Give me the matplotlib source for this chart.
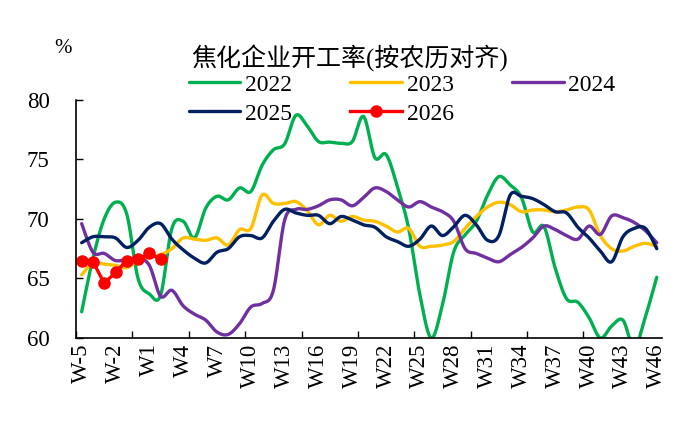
import numpy as np
import matplotlib
matplotlib.use("Agg")
import matplotlib.pyplot as plt

plt.rcParams['font.family'] = ['Liberation Serif', 'Noto Sans CJK SC']

weeks = ['W%d' % w for w in range(-5, 47)]

y2022 = [62.2, 66.7, 70.0, 71.4, 70.4, 65.0, 63.7, 63.6, 69.2, 69.8,
         68.4, 70.9, 71.9, 71.6, 72.6, 72.3, 74.5, 75.8, 76.3, 78.7,
         77.8, 76.5, 76.45, 76.35, 76.5, 78.6, 75.15, 75.4, 72.7, 69.2,
         63.6, 60.0, 62.8, 67.25, 68.65, 69.8, 72.0, 73.55, 72.85, 71.8,
         68.9, 69.35, 65.85, 63.3, 63.0, 61.7, 60.0, 61.0, 61.5, 59.2,
         61.8, 65.1]
y2023 = [65.3, 66.3, 66.2, 66.1, 65.9, 66.5, 66.8, 67.0, 67.5, 68.4,
         68.3, 68.2, 68.4, 67.8, 69.1, 69.2, 72.0, 71.3, 71.3, 71.45,
         70.7, 69.5, 70.3, 69.8, 70.2, 69.9, 69.8, 69.4, 68.9, 69.2,
         67.7, 67.7, 67.8, 68.1, 69.2, 70.2, 71.0, 71.4, 71.2, 70.6,
         70.75, 70.75, 70.6, 70.75, 71.0, 70.75, 68.6, 67.5, 67.3, 67.7,
         67.95, 67.7]
y2024 = [69.6, 67.2, 67.1, 66.5, 66.6, 66.7, 66.1, 63.5, 64.0, 62.7,
         62.0, 61.5, 60.5, 60.3, 61.2, 62.6, 62.9, 64.0, 69.9, 70.8,
         70.8, 71.1, 71.6, 71.6, 71.1, 71.8, 72.6, 72.3, 71.6, 71.0,
         71.45, 71.0, 70.6, 69.8, 67.5, 67.1, 66.7, 66.4, 67.0, 67.6,
         68.4, 69.4, 69.1, 68.6, 68.3, 69.4, 68.7, 70.25, 70.1, 69.7,
         69.0, 68.0]
y2025 = [68.0, 68.5, 68.5, 68.4, 67.6, 68.2, 69.3, 69.6, 68.3, 67.4,
         66.7, 66.3, 67.2, 67.5, 68.5, 68.6, 68.4, 69.8, 70.8, 70.5,
         70.3, 70.3, 69.6, 70.2, 69.9, 69.5, 69.3, 68.5, 68.1, 67.7,
         68.3, 69.4, 68.6, 69.35, 70.3, 69.5, 68.2, 68.6, 72.0, 71.9,
         71.7, 71.2, 70.6, 70.5, 69.3, 68.4, 67.3, 66.4, 68.5, 69.2,
         69.2, 67.5]
y2026 = [66.5, 66.4, 64.6, 65.5, 66.5, 66.6, 67.1, 66.6]


def smooth(y, n=16):
    # Excel-style smoothed line (Catmull-Rom through the points)
    p = np.column_stack([np.arange(len(y)), y]).astype(float)
    out = []
    t = np.linspace(0, 1, n, endpoint=False)[:, None]
    for i in range(len(p) - 1):
        p0 = p[i - 1] if i > 0 else p[i]
        p1, p2 = p[i], p[i + 1]
        p3 = p[i + 2] if i + 2 < len(p) else p[i + 1]
        c1 = p1 + (p2 - p0) / 6
        c2 = p2 - (p3 - p1) / 6
        out.append((1 - t) ** 3 * p1 + 3 * (1 - t) ** 2 * t * c1
                   + 3 * (1 - t) * t ** 2 * c2 + t ** 3 * p2)
    out.append(p[-1:])
    out = np.vstack(out)
    return out[:, 0], out[:, 1]


fig = plt.figure(figsize=(6.85, 4.23), dpi=100)
ax = fig.add_axes([0.111, 0.201, 0.856, 0.563])

series = [(y2022, '#00B050', '2022'), (y2023, '#FFC000', '2023'),
          (y2024, '#7030A0', '2024'), (y2025, '#002060', '2025')]
handles = {}
for ys, c, lab in series:
    sx, sy = smooth(ys)
    handles[lab], = ax.plot(sx, sy, color=c, lw=2.4, label=lab,
                            solid_capstyle='round')
handles['2026'], = ax.plot(range(len(y2026)), y2026, color='#FF0000', lw=2.4,
                           marker='o', ms=8, label='2026')

ax.set_xlim(-0.5, len(weeks) - 0.5)
ax.set_ylim(60, 80)
ax.set_yticks([60, 65, 70, 75, 80])
ax.set_xticks(np.arange(-0.5, len(weeks), 5))
ax.set_xticklabels([])
ax.set_xticks(range(0, len(weeks), 3), minor=True)
ax.set_xticklabels(weeks[::3], minor=True, rotation=90, fontsize=16.5)
ax.tick_params(axis='x', which='major', direction='in', length=5, width=1)
ax.tick_params(axis='x', which='minor', length=0, pad=4)
ax.tick_params(axis='y', direction='in', length=5, width=1, labelsize=16.5, pad=19)
for s in ['top', 'right']:
    ax.spines[s].set_visible(False)
for s in ['left', 'bottom']:
    ax.spines[s].set_linewidth(1.2)

fig.text(0.092, 0.885, '%', fontsize=15, ha='center', va='center')
fig.text(0.511, 0.862, '焦化企业开工率(按农历对齐)', fontsize=18,
         ha='center', va='center')

# row-major order for a 3-column legend
order = ['2022', '2025', '2023', '2026', '2024']
fig.legend([handles[k] for k in order], order, loc='upper left',
           bbox_to_anchor=(0.258, 0.853), ncol=3, frameon=False,
           fontsize=17, handlelength=2.2, handletextpad=0.2,
           columnspacing=2.45, labelspacing=0.32, borderpad=0, numpoints=1)

fig.savefig('out.png', dpi=100)
